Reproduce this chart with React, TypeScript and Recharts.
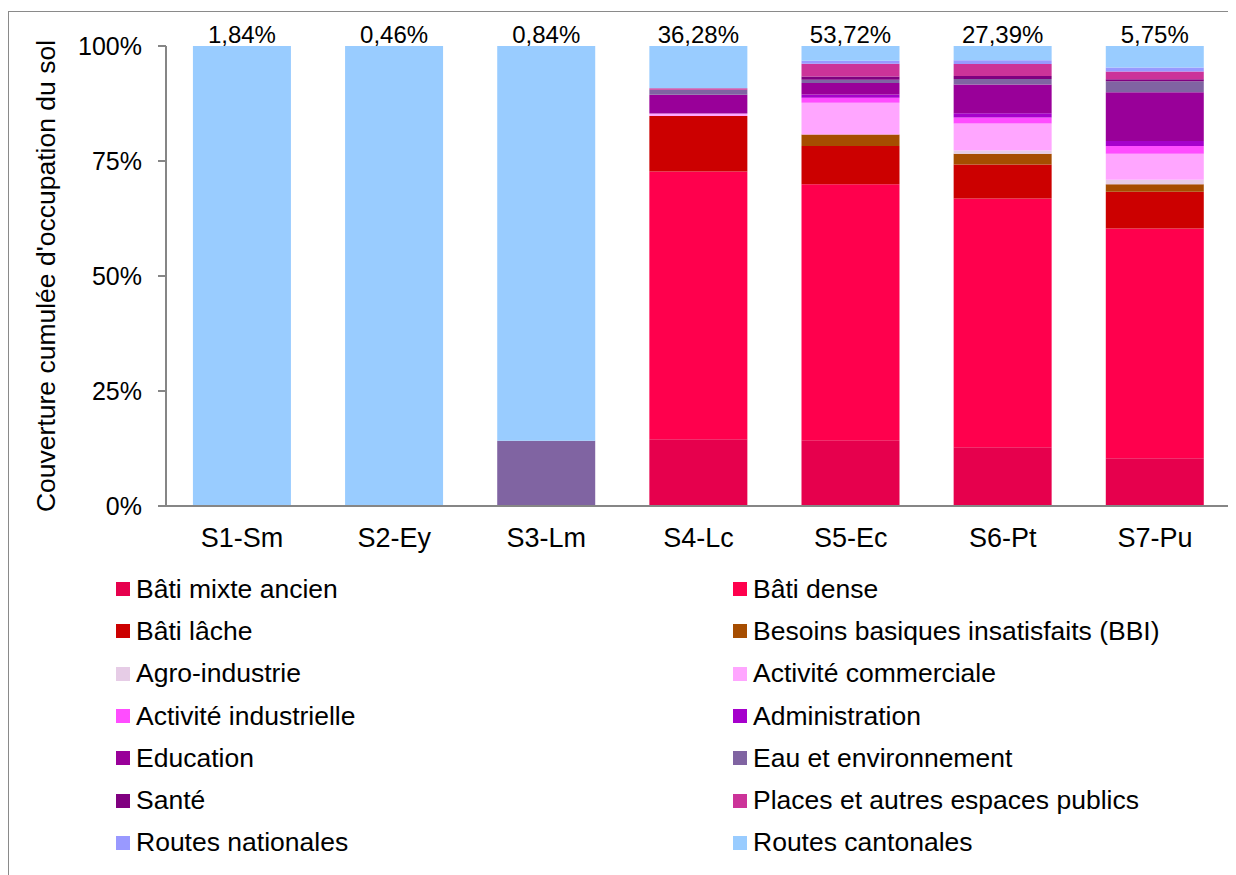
import React from "react"
import { Bar, BarChart, LabelList, XAxis, YAxis } from "recharts"

// share of each site, printed above the bars
const categories = ["S1-Sm", "S2-Ey", "S3-Lm", "S4-Lc", "S5-Ec", "S6-Pt", "S7-Pu"]
const parts = ["1,84%", "0,46%", "0,84%", "36,28%", "53,72%", "27,39%", "5,75%"]

// land use classes, bottom of the stack first
const mixteAncien = [0, 0, 0, 14.5, 14.3, 12.8, 10.4]
const batiDense = [0, 0, 0, 58.2, 55.6, 54.1, 49.9]
const batiLache = [0, 0, 0, 12.1, 8.3, 7.4, 8.0]
const bbi = [0, 0, 0, 0, 2.5, 2.3, 1.65]
const agro = [0, 0, 0, 0, 0, 0.7, 1.0]
const commerciale = [0, 0, 0, 0.5, 6.9, 5.9, 5.6]
const industrielle = [0, 0, 0, 0, 1.1, 1.3, 1.7]
const administration = [0, 0, 0, 0, 0.7, 0.9, 1.1]
const education = [0, 0, 0, 4.1, 2.5, 6.3, 10.6]
const eau = [0, 0, 14.2, 1.1, 0.7, 1.15, 2.4]
const sante = [0, 0, 0, 0, 0.7, 0.7, 0.4]
const places = [0, 0, 0, 0.3, 2.8, 2.6, 1.7]
const routesNat = [0, 0, 0, 0, 0.65, 0.8, 0.9]
const routesCant = [100, 100, 85.8, 9.2, 3.2, 3.1, 4.65]

const series = [
    { key: "mixte", name: "Bâti mixte ancien", color: "#E6004D", values: mixteAncien },
    { key: "dense", name: "Bâti dense", color: "#FF004D", values: batiDense },
    { key: "lache", name: "Bâti lâche", color: "#CC0000", values: batiLache },
    { key: "bbi", name: "Besoins basiques insatisfaits (BBI)", color: "#A64D00", values: bbi },
    { key: "agro", name: "Agro-industrie", color: "#E6CCE6", values: agro },
    { key: "comm", name: "Activité commerciale", color: "#FFA6FF", values: commerciale },
    { key: "indus", name: "Activité industrielle", color: "#FF4DFF", values: industrielle },
    { key: "admin", name: "Administration", color: "#A600CC", values: administration },
    { key: "edu", name: "Education", color: "#990099", values: education },
    { key: "eau", name: "Eau et environnement", color: "#8064A2", values: eau },
    { key: "sante", name: "Santé", color: "#800080", values: sante },
    { key: "places", name: "Places et autres espaces publics", color: "#CC3399", values: places },
    { key: "rn", name: "Routes nationales", color: "#9999FF", values: routesNat },
    { key: "rc", name: "Routes cantonales", color: "#99CCFF", values: routesCant },
]

const data = categories.map((cat, i) => {
    const row: Record<string, string | number> = { name: cat, part: parts[i] }
    series.forEach(s => { row[s.key] = s.values[i] })
    return row
})

const font = "'Liberation Sans', Arial, sans-serif"
const axisColor = "#868686"

const App = () => (
    <div style={{ position: "relative", width: 1227, height: 864, marginTop: 3, borderLeft: "1px solid #8a8a8a", borderTop: "1px solid #8a8a8a", fontFamily: font, background: "#fff" }}>
        <BarChart data={data} width={1227} height={560} stackOffset="expand" barCategoryGap="17.7%"
            margin={{ top: 34, right: 5, left: 0, bottom: 0 }} style={{ fontFamily: font }}>
            <XAxis dataKey="name" tickLine={false} tickSize={0} tickMargin={22} height={66}
                axisLine={{ stroke: axisColor, strokeWidth: 2 }} tick={{ fill: "#000", fontSize: 27 }} />
            <YAxis type="number" domain={[0, 1]} ticks={[0, 0.25, 0.5, 0.75, 1]} width={157}
                tickFormatter={(v: number) => `${Math.round(v * 100)}%`}
                tickSize={8} tickMargin={16}
                axisLine={{ stroke: axisColor, strokeWidth: 2 }} tickLine={{ stroke: axisColor, strokeWidth: 2 }}
                tick={{ fill: "#000", fontSize: 25 }}
                label={{ value: "Couverture cumulée d'occupation du sol", angle: -90, position: "center", dx: -42, fill: "#000", fontSize: 26.5 }} />
            {series.map((s, i) => (
                <Bar key={s.key} dataKey={s.key} name={s.name} stackId="a" fill={s.color} isAnimationActive={false}>
                    {i === series.length - 1 && (
                        <LabelList dataKey="part" position="top" offset={3} fill="#000" fontSize={24} />
                    )}
                </Bar>
            ))}
        </BarChart>
        <div style={{ position: "absolute", left: 107, top: 556, display: "grid", gridTemplateColumns: "617px 440px", gridAutoRows: "42.3px" }}>
            {series.map(s => (
                <div key={s.key} style={{ display: "flex", alignItems: "center", fontSize: 26.5, color: "#000", whiteSpace: "nowrap" }}>
                    <span style={{ width: 14, height: 14, background: s.color, marginRight: 6, display: "inline-block", flex: "none" }} />
                    {s.name}
                </div>
            ))}
        </div>
    </div>
)

export default App
